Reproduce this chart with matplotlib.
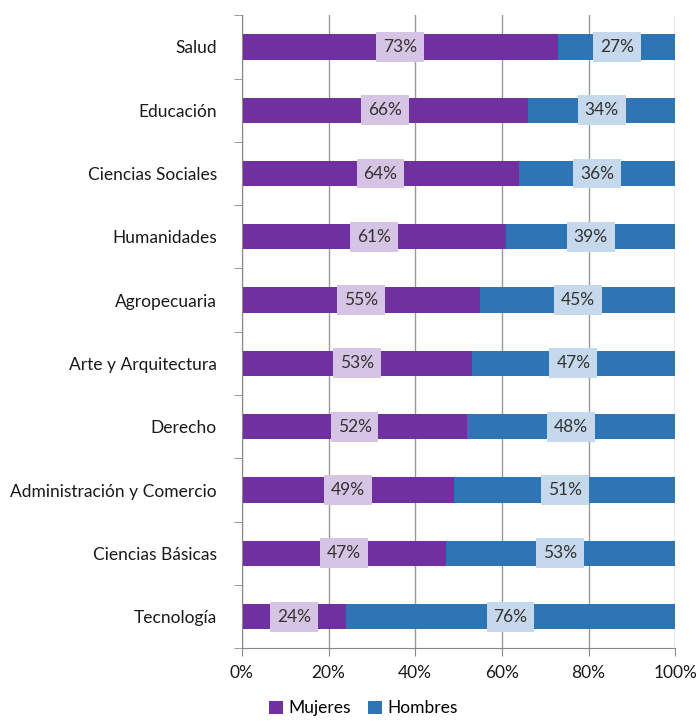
import numpy as np
import matplotlib.pyplot as plt
from matplotlib.ticker import PercentFormatter

plt.rcParams['font.family'] = ['Lato', 'DejaVu Sans']

areas = ["Salud", "Educación", "Ciencias Sociales", "Humanidades", "Agropecuaria",
         "Arte y Arquitectura", "Derecho", "Administración y Comercio",
         "Ciencias Básicas", "Tecnología"]
mujeres = [73, 66, 64, 61, 55, 53, 52, 49, 47, 24]
hombres = [27, 34, 36, 39, 45, 47, 48, 51, 53, 76]

c_muj = "#7030a0"
c_hom = "#2e75b6"

fig = plt.figure(figsize=(6.99, 7.26), dpi=100)
ax = fig.add_axes([0.346, 0.107, 0.62, 0.872])

y = np.arange(len(areas))[::-1]
m = np.array(mujeres)
h = np.array(hombres)
ax.barh(y, m, height=0.4, color=c_muj, label="Mujeres", zorder=2)
ax.barh(y, h, left=m, height=0.4, color=c_hom, label="Hombres", zorder=2)

for yi, mv, hv in zip(y, m, h):
    ax.text(mv / 2, yi, f"{mv}%", ha="center", va="center", fontsize=12.5, color="#333333",
            zorder=3, bbox=dict(boxstyle="square,pad=0.4", fc="#d5c4e3", ec="none"))
    ax.text(mv + hv / 2, yi, f"{hv}%", ha="center", va="center", fontsize=12.5, color="#333333",
            zorder=3, bbox=dict(boxstyle="square,pad=0.4", fc="#c5d8ec", ec="none"))

ax.set_xlim(0, 100)
ax.set_ylim(-0.5, len(areas) - 0.5)
ax.set_xticks(np.arange(0, 101, 20))
ax.xaxis.set_major_formatter(PercentFormatter(decimals=0))
ax.set_yticks(y)
ax.set_yticklabels(areas)
ax.set_yticks(np.arange(-0.5, len(areas), 1), minor=True)
ax.tick_params(axis="y", which="major", length=0, labelsize=12.5, pad=18, colors="#1a1a1a")
ax.tick_params(axis="y", which="minor", length=6, color="#888888")
ax.tick_params(axis="x", length=6, color="#888888", labelsize=12.5, colors="#1a1a1a", pad=6)
ax.grid(axis="x", color="#999999", linewidth=1, zorder=0)
for s in ["top", "right"]:
    ax.spines[s].set_visible(False)
for s in ["left", "bottom"]:
    ax.spines[s].set_color("#888888")

fig.legend(loc="lower center", bbox_to_anchor=(0.52, -0.008), ncol=2, frameon=False,
           fontsize=12.5, handlelength=0.8, handleheight=0.8, handletextpad=0.3, columnspacing=1.0)

fig.savefig("out.png", dpi=100)
